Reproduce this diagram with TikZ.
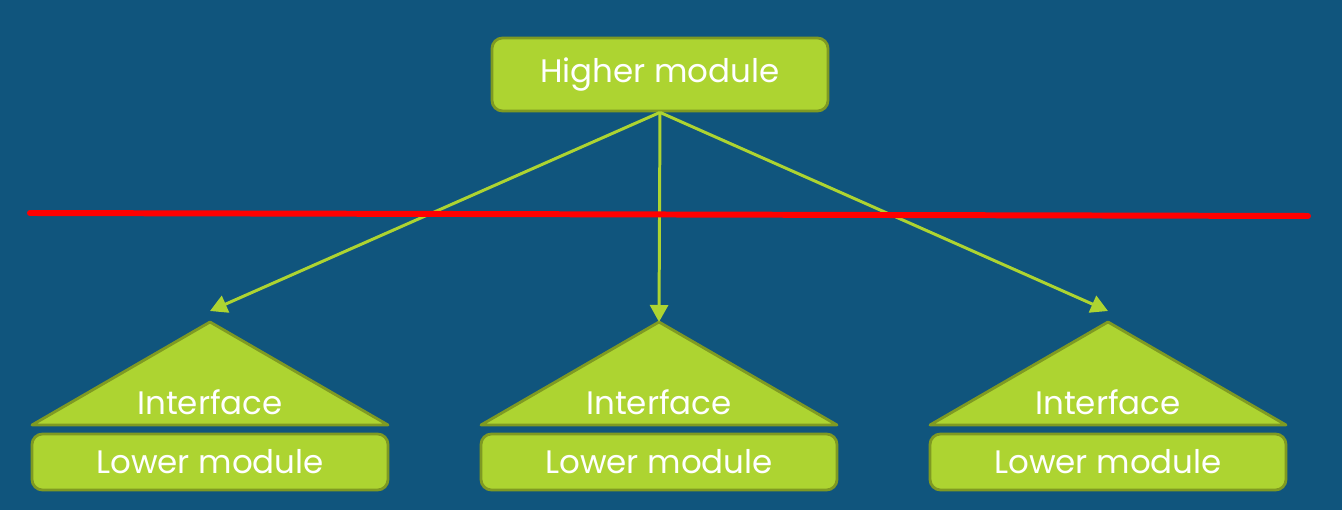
\documentclass[tikz,border=0pt]{standalone}
\usepackage{fontspec}
\setmainfont{Poppins}
\usepackage{xcolor}
\usepackage{tikz}
\usetikzlibrary{arrows.meta,positioning}
\definecolor{slideblue}{HTML}{10557D}
\definecolor{limefill}{HTML}{ADD431}
\definecolor{limeedge}{HTML}{7F9A22}
\definecolor{cutred}{HTML}{FF0000}
\tikzset{
  modulebox/.style={
    draw=limeedge,
    fill=limefill,
    rounded corners=6pt,
    line width=1.6pt,
    text=white,
    align=center,
    inner sep=0pt,
    font=\fontsize{18.5}{20}\selectfont
  },
  interfacetri/.style={
    draw=limeedge,
    fill=limefill,
    line width=1.6pt,
    line join=round
  },
  calllink/.style={
    -{Triangle[length=3.4mm,width=3.6mm]},
    line width=1.7pt,
    draw=limefill
  },
  cutline/.style={
    draw=cutred,
    line width=3.4pt,
    line cap=round
  },
  tritext/.style={
    text=white,
    inner sep=0pt,
    font=\fontsize{18.5}{20}\selectfont
  }
}

\begin{document}
\begin{tikzpicture}
    \fill[slideblue] (0,0) rectangle (26.84,-10.2);
    \useasboundingbox (0,0) rectangle (26.84,-10.2);

    \node[modulebox, minimum width=6.72cm, minimum height=1.46cm] (higher) at (13.2,-1.49) {Higher module};

    % interfaces with their lower modules
    \foreach \name/\cx in {left/4.2, mid/13.18, right/22.16} {
        \coordinate (apex\name) at (\cx,-6.44);
        \coordinate (tip\name) at (\cx,-6.22);
        \draw[interfacetri] (apex\name) -- (\cx+3.56,-8.5) -- (\cx-3.56,-8.5) -- cycle;
        \node[tritext] (iface\name) at (\cx,-8.04) {Interface};
        \node[modulebox, minimum width=7.12cm, minimum height=1.12cm] (lower\name) at (\cx,-9.24) {Lower module};
    }

    \draw[calllink] (higher.south) -- (tipleft);
    \draw[calllink] (higher.south) -- (apexmid);
    \draw[calllink] (higher.south) -- (tipright);

    \coordinate (cutstart) at (0.6,-4.26);
    \coordinate (cutend) at (26.16,-4.32);
    \draw[cutline] (cutstart) -- (cutend);
\end{tikzpicture}
\end{document}
